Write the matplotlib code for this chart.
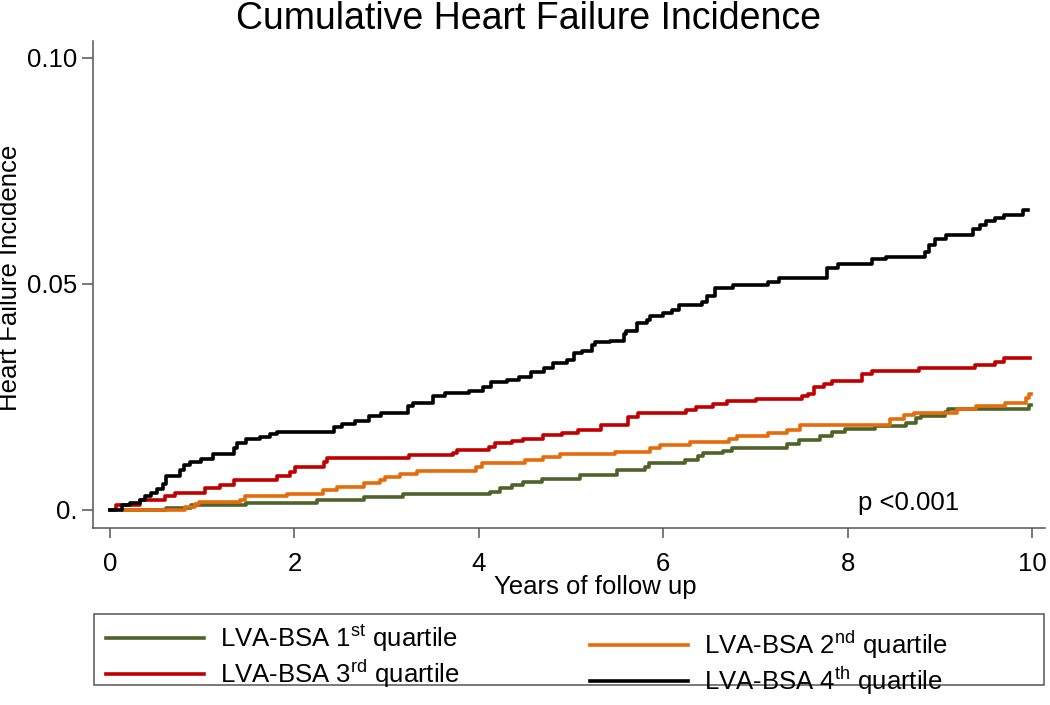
import matplotlib
matplotlib.use("Agg")
import matplotlib.pyplot as plt
from matplotlib.patches import Rectangle

plt.rcParams["font.family"] = ["Liberation Sans", "DejaVu Sans"]
plt.rcParams["mathtext.fontset"] = "custom"
plt.rcParams["mathtext.rm"] = "Liberation Sans"

# ---- data: step times (years) and cumulative incidence per LVA-BSA quartile ----
q1_t = [0.14, 0.61, 0.88, 1.48, 2.24, 2.75, 3.18, 4.12, 4.23, 4.36, 4.48, 4.68, 5.10, 5.50,
        5.80, 5.84, 6.24, 6.38, 6.43, 6.65, 6.74, 7.34, 7.47, 7.70, 7.83, 7.97, 8.30, 8.63,
        8.74, 8.79, 9.05, 9.09, 9.97, 9.99]
q1_y = [0.0, 0.0005, 0.0011, 0.0016, 0.0023, 0.0029, 0.0035, 0.0040, 0.0048, 0.0055, 0.0061,
        0.0068, 0.0077, 0.0088, 0.0096, 0.0104, 0.0110, 0.0119, 0.0125, 0.0130, 0.0137, 0.0146,
        0.0155, 0.0164, 0.0172, 0.0180, 0.0186, 0.0193, 0.0203, 0.0208, 0.0217, 0.0224, 0.0233,
        0.0233]

q2_t = [0.14, 0.81, 0.92, 0.96, 1.41, 1.46, 1.92, 2.31, 2.46, 2.75, 2.93, 2.98, 3.15, 3.33,
        3.97, 4.03, 4.50, 4.70, 4.88, 5.48, 5.86, 5.96, 6.29, 6.71, 6.80, 7.14, 7.34, 7.48,
        8.46, 8.61, 8.72, 9.19, 9.39, 9.71, 9.93, 9.97, 9.99]
q2_y = [0.0, 0.0007, 0.0013, 0.0018, 0.0023, 0.0030, 0.0036, 0.0044, 0.0050, 0.0059, 0.0066,
        0.0072, 0.0079, 0.0086, 0.0094, 0.0103, 0.0110, 0.0118, 0.0124, 0.0129, 0.0136, 0.0144,
        0.0150, 0.0157, 0.0164, 0.0170, 0.0177, 0.0188, 0.0202, 0.0210, 0.0215, 0.0224, 0.0229,
        0.0237, 0.0247, 0.0256, 0.0256]

q3_t = [0.0, 0.07, 0.33, 0.60, 0.71, 1.03, 1.19, 1.34, 1.81, 1.95, 2.01, 2.32, 2.35, 3.24,
        3.72, 3.76, 4.11, 4.18, 4.36, 4.48, 4.70, 4.90, 5.08, 5.32, 5.62, 5.73, 6.25, 6.36,
        6.54, 6.69, 7.01, 7.50, 7.57, 7.63, 7.74, 7.83, 8.15, 8.26, 8.77, 9.38, 9.60, 9.69,
        9.98]
q3_y = [0.0, 0.0011, 0.0022, 0.0030, 0.0037, 0.0048, 0.0055, 0.0066, 0.0074, 0.0085, 0.0096,
        0.0105, 0.0114, 0.0122, 0.0127, 0.0133, 0.0140, 0.0147, 0.0152, 0.0158, 0.0166, 0.0170,
        0.0177, 0.0188, 0.0206, 0.0214, 0.0221, 0.0227, 0.0234, 0.0241, 0.0246, 0.0252, 0.0257,
        0.0272, 0.0279, 0.0286, 0.0301, 0.0308, 0.0314, 0.0321, 0.0328, 0.0335, 0.0335]

q4_t = [0.0, 0.13, 0.22, 0.33, 0.38, 0.44, 0.51, 0.58, 0.61, 0.76, 0.80, 0.87, 0.99, 1.12,
        1.34, 1.38, 1.47, 1.63, 1.74, 1.81, 2.43, 2.52, 2.66, 2.81, 2.94, 3.23, 3.29, 3.50,
        3.63, 3.89, 4.04, 4.13, 4.31, 4.44, 4.57, 4.71, 4.80, 4.96, 5.03, 5.12, 5.23, 5.26,
        5.42, 5.57, 5.60, 5.71, 5.82, 5.86, 6.00, 6.09, 6.17, 6.42, 6.47, 6.56, 6.76, 7.14,
        7.25, 7.77, 7.89, 8.26, 8.42, 8.84, 8.88, 8.95, 9.07, 9.36, 9.43, 9.50, 9.60, 9.70,
        9.90, 9.95]
q4_y = [0.0, 0.0011, 0.0016, 0.0022, 0.0030, 0.0037, 0.0046, 0.0058, 0.0074, 0.0088, 0.0099,
        0.0107, 0.0112, 0.0124, 0.0136, 0.0147, 0.0156, 0.0161, 0.0167, 0.0173, 0.0183, 0.0190,
        0.0197, 0.0208, 0.0214, 0.0230, 0.0237, 0.0252, 0.0259, 0.0264, 0.0271, 0.0283, 0.0288,
        0.0295, 0.0306, 0.0315, 0.0324, 0.0332, 0.0346, 0.0351, 0.0364, 0.0371, 0.0374, 0.0389,
        0.0396, 0.0414, 0.0421, 0.0430, 0.0436, 0.0443, 0.0453, 0.0460, 0.0473, 0.0490, 0.0497,
        0.0505, 0.0512, 0.0534, 0.0545, 0.0554, 0.0560, 0.0571, 0.0585, 0.0600, 0.0609, 0.0622,
        0.0630, 0.0640, 0.0645, 0.0652, 0.0663, 0.0663]

labels = [r"LVA-BSA 1$^{\rm st}$ quartile", r"LVA-BSA 2$^{\rm nd}$ quartile",
          r"LVA-BSA 3$^{\rm rd}$ quartile", r"LVA-BSA 4$^{\rm th}$ quartile"]
colors = ["#4f6228", "#e46c0a", "#c00000", "#000000"]
xticks = [0, 2, 4, 6, 8, 10]
yticks = [0.0, 0.05, 0.10]
ytick_labels = ["0.", "0.05", "0.10"]

fig = plt.figure(figsize=(10.5, 7.05), dpi=100)
ax = fig.add_axes([0.0886, 0.251, 0.9067, 0.6908])

lines = []
for t, y, c, lab in zip([q1_t, q2_t, q3_t, q4_t], [q1_y, q2_y, q3_y, q4_y], colors, labels):
    ln, = ax.step(t, y, where="post", color=c, lw=2.6, label=lab)
    lines.append(ln)

ax.set_xlim(-0.184, 10.14)
ax.set_ylim(-0.004, 0.1037)
ax.set_xticks(xticks)
ax.set_yticks(yticks)
ax.set_yticklabels(ytick_labels)
for s in ["top", "right"]:
    ax.spines[s].set_visible(False)
for s in ["left", "bottom"]:
    ax.spines[s].set_color("#555555")
    ax.spines[s].set_linewidth(1.1)
ax.tick_params(axis="x", length=7.5, width=1.1, color="#555555", pad=10, labelsize=18.5)
ax.tick_params(axis="y", length=8, width=1.1, color="#555555", pad=3.5, labelsize=18.5)

ax.set_xlabel("Years of follow up", fontsize=18.5, va="center")
ax.xaxis.set_label_coords(0.528, -0.121)
ax.set_ylabel("Heart Failure Incidence", fontsize=18.5, va="center")
ax.yaxis.set_label_coords(-0.0872, 0.513)

ax.text(8.11, 0.0, "p <0.001", fontsize=18.5, va="baseline", ha="left")

fig.text(528 / 1050, 1 - 29 / 705, "Cumulative Heart Failure Incidence", fontsize=27,
         ha="center", va="baseline")

# legend: two columns placed separately, with a common frame
fig.add_artist(Rectangle((0.0895, 0.0284), 0.9048, 0.1007, transform=fig.transFigure,
                         fill=False, ec="#555555", lw=1.1))
kw = dict(frameon=False, fontsize=18.5, handlelength=3.8, handletextpad=0.65,
          labelspacing=0.12, borderpad=0, borderaxespad=0, loc="upper left")
fig.legend([lines[0], lines[2]], [labels[0], labels[2]], bbox_to_anchor=(0.101, 0.1175), **kw)
fig.legend([lines[1], lines[3]], [labels[1], labels[3]], bbox_to_anchor=(0.562, 0.109), **kw)

fig.savefig("out.png", dpi=100)
